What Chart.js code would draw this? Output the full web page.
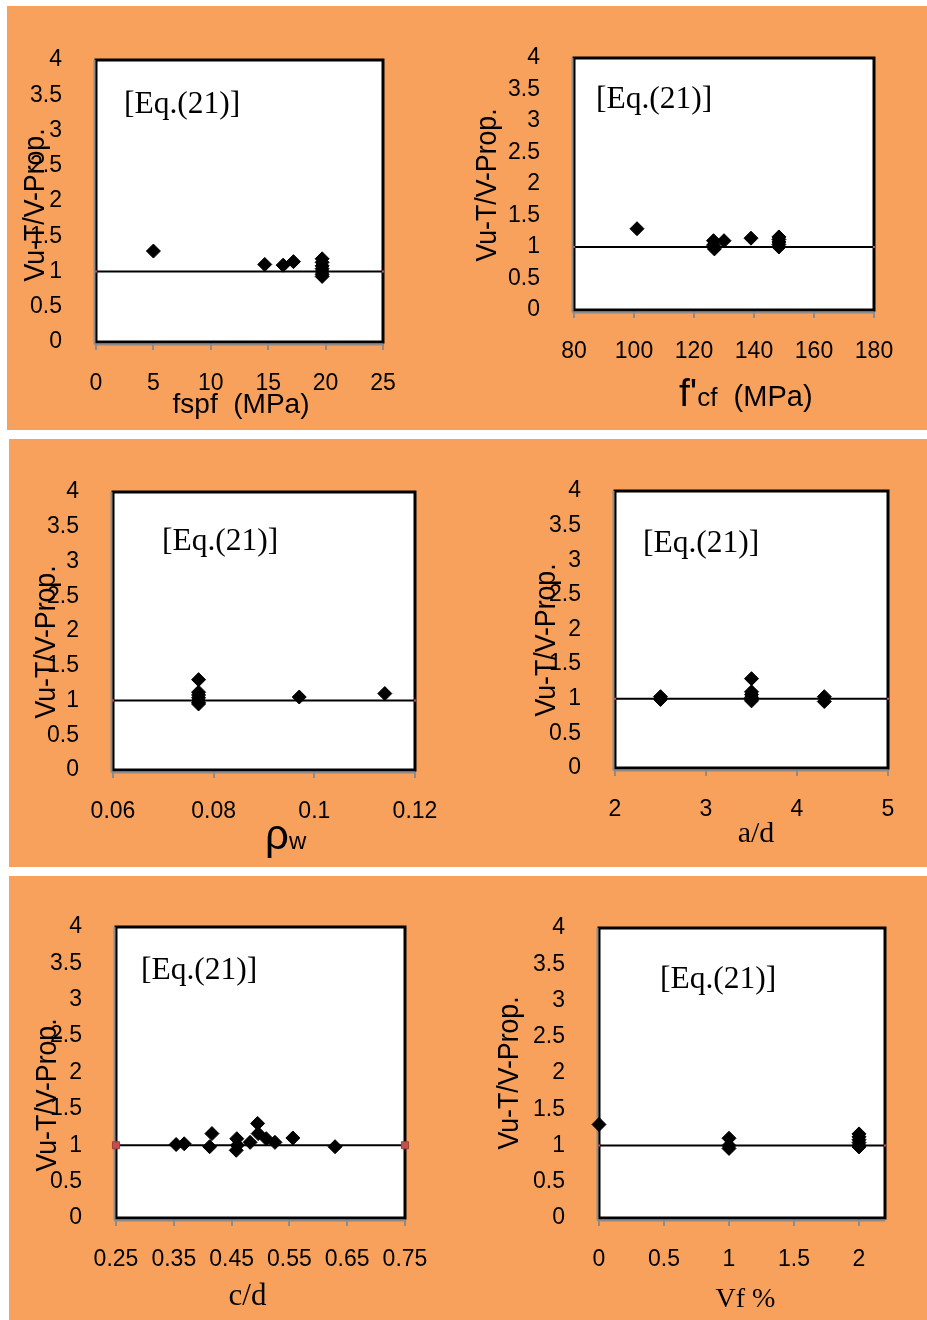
<!DOCTYPE html>
<html>
<head>
<meta charset="utf-8">
<script src="https://cdn.jsdelivr.net/npm/chart.js@4.4.0/dist/chart.umd.min.js"></script>
<style>
html,body{margin:0;padding:0;background:#fff;}
body{position:relative;width:927px;height:1320px;overflow:hidden;}
.panel{position:absolute;background:#F7A15C;}
canvas{position:absolute;}
</style>
</head>
<body>
<div class="panel" style="left:7px;top:6px;width:920px;height:424px"></div>
<div class="panel" style="left:9px;top:439px;width:918px;height:428px"></div>
<div class="panel" style="left:9px;top:876px;width:918px;height:444px"></div>
<canvas id="c1"></canvas>
<canvas id="c2"></canvas>
<canvas id="c3"></canvas>
<canvas id="c4"></canvas>
<canvas id="c5"></canvas>
<canvas id="c6"></canvas>
<script>
// ---------------- DATA ----------------
const yTicks = [0, 0.5, 1, 1.5, 2, 2.5, 3, 3.5, 4];
const yTitle = 'Vu-T/V-Prop.';
const eqLabel = '[Eq.(21)]';

// Chart 1: fspf (MPa)
const fspfTicks = [0, 5, 10, 15, 20, 25];
const fspfX = [5, 14.7, 16.3, 17.2, 19.7, 19.7, 19.7, 19.7, 19.7, 19.7, 19.7];
const fspfY = [1.29, 1.10, 1.09, 1.14, 1.18, 1.13, 1.08, 1.04, 1.00, 0.96, 0.93];

// Chart 2: f'cf (MPa)
const fcfTicks = [80, 100, 120, 140, 160, 180];
const fcfX = [101, 126.5, 126.5, 126.8, 130, 139, 148.3, 148.3, 148.3, 148.3, 148.3];
const fcfY = [1.29, 1.10, 1.03, 0.97, 1.10, 1.14, 1.16, 1.12, 1.08, 1.04, 1.00];

// Chart 3: rho_w
const rhoTicks = [0.06, 0.08, 0.1, 0.12];
const rhoX = [0.077, 0.077, 0.077, 0.077, 0.077, 0.077, 0.077, 0.097, 0.114];
const rhoY = [1.30, 1.12, 1.08, 1.04, 1.00, 0.97, 0.95, 1.05, 1.10];

// Chart 4: a/d
const adTicks = [2, 3, 4, 5];
const adX = [2.5, 2.5, 3.5, 3.5, 3.5, 3.5, 3.5, 3.5, 4.3, 4.3];
const adY = [1.03, 0.99, 1.29, 1.10, 1.06, 1.02, 0.99, 0.97, 1.03, 0.96];

// Chart 5: c/d
const cdTicks = [0.25, 0.35, 0.45, 0.55, 0.65, 0.75];
const cdX = [0.354, 0.368, 0.412, 0.416, 0.458, 0.459, 0.460, 0.482, 0.495, 0.496, 0.510, 0.525, 0.556, 0.629];
const cdY = [1.01, 1.02, 0.98, 1.16, 0.93, 1.09, 1.00, 1.04, 1.30, 1.16, 1.09, 1.04, 1.10, 0.98];

// Chart 6: Vf %
const vfTicks = [0, 0.5, 1, 1.5, 2];
const vfX = [0, 1, 1, 1, 2, 2, 2, 2, 2, 2];
const vfY = [1.29, 1.10, 1.00, 0.96, 1.16, 1.12, 1.08, 1.04, 1.00, 0.98];

// Reference line Vu-T/V-Prop. = 1
const refY = [1, 1];

// ---------------- LAYOUT / STYLE ----------------
const WY = 80, HX = 60;
const SANS = "'Liberation Sans', Arial, sans-serif";
const SERIF = "'Liberation Serif', 'Times New Roman', serif";

const specs = [
  {id:'c1', box:[0,0,463,435], area:[96,60,383,342], xr:[0,25], ticks:fspfTicks, xs:fspfX, ys:fspfY, mk:1.5,
   eq:[124,113], yt:[36,205],
   xt:{x:241, y:413, align:'center', segs:[{t:'fspf  (MPa)', f:'28px '+SANS}]}},
  {id:'c2', box:[463,0,464,435], area:[574,58,874,310], xr:[80,180], ticks:fcfTicks, xs:fcfX, ys:fcfY, mk:1.5,
   eq:[596,108], yt:[488,185],
   xt:{x:679, y:406, align:'left', segs:[{t:"f'", f:'39px '+SANS},{t:'cf', f:'26px '+SANS},{t:'  (MPa)', f:'29px '+SANS}]}},
  {id:'c3', box:[0,435,463,435], area:[113,492,415,770], xr:[0.06,0.12], ticks:rhoTicks, xs:rhoX, ys:rhoY, mk:1.5,
   eq:[162,550], yt:[47,642],
   xt:{x:265, y:849, align:'left', segs:[{t:'\u03C1', f:'42px '+SANS},{t:'w', f:'24px '+SANS}]}},
  {id:'c4', box:[463,435,464,435], area:[615,491,888,768], xr:[2,5], ticks:adTicks, xs:adX, ys:adY, mk:1.5,
   eq:[643,552], yt:[546.5,640],
   xt:{x:756, y:842, align:'center', segs:[{t:'a/d', f:'30px '+SERIF}]}},
  {id:'c5', box:[0,870,463,450], area:[116,927,405,1218], xr:[0.25,0.75], ticks:cdTicks, xs:cdX, ys:cdY, mk:5,
   eq:[141,979], yt:[48,1095],
   xt:{x:247.5, y:1305, align:'center', segs:[{t:'c/d', f:'31px '+SERIF}]}},
  {id:'c6', box:[463,870,464,450], area:[599,928,885,1218], xr:[0,2.2], ticks:vfTicks, xs:vfX, ys:vfY, mk:1.5,
   eq:[660,988], yt:[510,1073],
   xt:{x:745.5, y:1307, align:'center', segs:[{t:'Vf %', f:'28px '+SERIF}]}}
];

const framePlugin = {
  id: 'frame',
  beforeDraw(chart) {
    const {ctx, chartArea: a} = chart;
    ctx.save();
    ctx.fillStyle = '#ffffff';
    ctx.fillRect(a.left, a.top, a.right - a.left, a.bottom - a.top);
    ctx.restore();
  },
  beforeDatasetsDraw(chart) {
    const {ctx, chartArea: a} = chart;
    ctx.save();
    ctx.strokeStyle = '#000'; ctx.lineWidth = 3;
    ctx.strokeRect(a.left, a.top, a.right - a.left, a.bottom - a.top);
    ctx.strokeStyle = '#8c8c8c'; ctx.lineWidth = 2;
    ctx.beginPath(); ctx.moveTo(a.left - 1.5, a.top); ctx.lineTo(a.left - 1.5, a.bottom + 2.5); ctx.stroke();
    ctx.beginPath(); ctx.moveTo(a.left - 1.5, a.bottom + 2.5); ctx.lineTo(a.right, a.bottom + 2.5); ctx.stroke();
    ctx.restore();
  }
};

const textPlugin = {
  id: 'freeText',
  afterDraw(chart, args, opts) {
    const ctx = chart.ctx;
    (opts.items || []).forEach(it => {
      ctx.save();
      ctx.fillStyle = '#000';
      ctx.translate(it.x - opts.ox, it.y - opts.oy);
      if (it.rot) ctx.rotate(it.rot * Math.PI / 180);
      if (it.sx) ctx.scale(it.sx, 1);
      ctx.textBaseline = it.baseline || 'alphabetic';
      ctx.textAlign = 'left';
      let total = 0;
      it.segs.forEach(s => { ctx.font = s.f; total += ctx.measureText(s.t).width; });
      let x0 = it.align === 'center' ? -total / 2 : (it.align === 'right' ? -total : 0);
      it.segs.forEach(s => { ctx.font = s.f; ctx.fillText(s.t, x0, 0); x0 += ctx.measureText(s.t).width; });
      ctx.restore();
    });
  }
};

specs.forEach(sp => {
  const cv = document.getElementById(sp.id);
  const [cx, cy, cw, ch] = sp.box;
  const [L, T, R, B] = sp.area;
  cv.width = cw; cv.height = ch;
  cv.style.left = cx + 'px'; cv.style.top = cy + 'px';
  cv.style.width = cw + 'px'; cv.style.height = ch + 'px';

  const points = sp.xs.map((x, i) => ({x: x, y: sp.ys[i]}));
  const refLine = sp.xr.map((x, i) => ({x: x, y: refY[i]}));

  new Chart(cv, {
    type: 'scatter',
    data: {
      datasets: [
        {data: points, pointStyle: 'rectRot', pointRadius: 7, pointBackgroundColor: '#000',
         pointBorderColor: '#000', pointBorderWidth: 1, showLine: false, clip: false},
        {data: refLine, type: 'line', showLine: true, borderColor: '#000', borderWidth: 2,
         pointStyle: 'rect', pointRadius: sp.mk, pointBackgroundColor: '#C0504D', pointBorderColor: '#A0403D',
         pointBorderWidth: sp.mk > 2 ? 1 : 0, clip: false, fill: false, tension: 0}
      ]
    },
    options: {
      responsive: false, animation: false, devicePixelRatio: 1, events: [],
      layout: {padding: {left: (L - cx) - WY, top: T - cy, right: cx + cw - R, bottom: cy + ch - B - HX}},
      plugins: {
        legend: {display: false}, tooltip: {enabled: false},
        freeText: {ox: cx, oy: cy, items: [
          {x: sp.eq[0], y: sp.eq[1], align: 'left', segs: [{t: eqLabel, f: '31.5px ' + SERIF}]},
          {x: sp.yt[0], y: sp.yt[1], rot: -90, sx: 0.92, align: 'center', baseline: 'middle', segs: [{t: yTitle, f: '29px ' + SANS}]},
          sp.xt
        ]}
      },
      scales: {
        x: {
          type: 'linear', position: 'bottom', min: sp.xr[0], max: sp.xr[1],
          afterBuildTicks: s => { s.ticks = sp.ticks.map(v => ({value: v})); },
          afterFit: s => { s.height = HX; },
          grid: {display: true, drawOnChartArea: false, drawTicks: true, tickLength: 8, color: '#8c8c8c', lineWidth: 2},
          border: {display: false},
          ticks: {color: '#000', font: {family: SANS, size: 23}, padding: 20, maxRotation: 0, autoSkip: false,
                  callback: v => String(v)}
        },
        y: {
          type: 'linear', position: 'left', min: 0, max: 4,
          afterBuildTicks: s => { s.ticks = yTicks.map(v => ({value: v})); },
          afterFit: s => { s.width = WY; },
          grid: {display: false},
          border: {display: false},
          ticks: {color: '#000', font: {family: SANS, size: 23}, padding: 26, autoSkip: false,
                  callback: v => String(v)}
        }
      }
    },
    plugins: [framePlugin, textPlugin]
  });
});
</script>
</body>
</html>
